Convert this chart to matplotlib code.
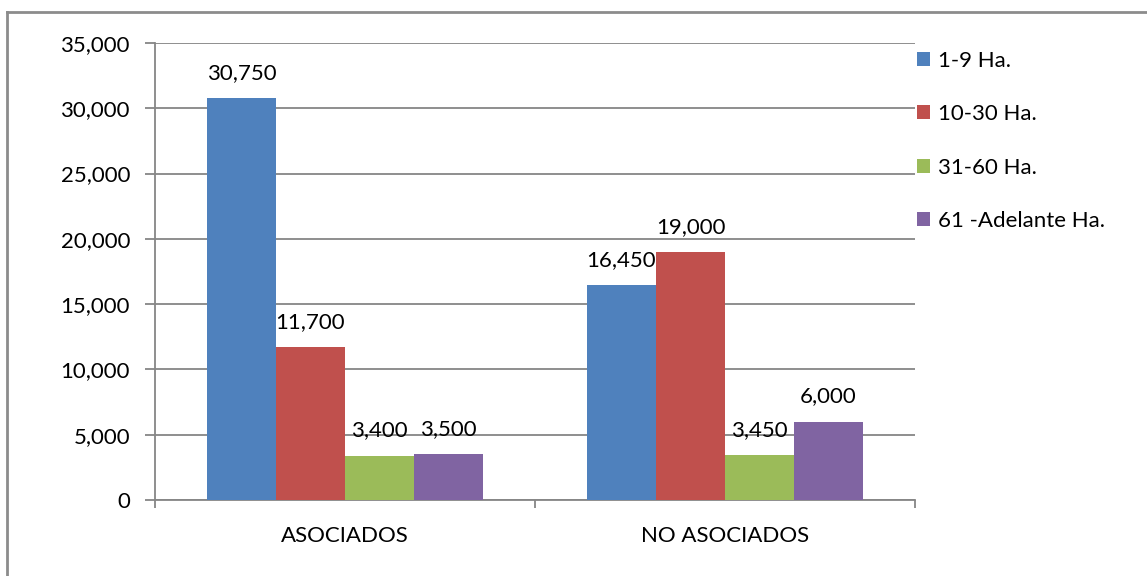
import matplotlib
matplotlib.use("Agg")
import matplotlib.pyplot as plt
from matplotlib.lines import Line2D
from matplotlib.ticker import FuncFormatter, MultipleLocator
import numpy as np

categories = ["ASOCIADOS", "NO ASOCIADOS"]
series_names = ["1-9 Ha.", "10-30 Ha.", "31-60 Ha.", "61 -Adelante Ha."]
values_1_9 = [30750, 16450]
values_10_30 = [11700, 19000]
values_31_60 = [3400, 3450]
values_61_up = [3500, 6000]
series_values = [values_1_9, values_10_30, values_31_60, values_61_up]
colors = ["#4F81BD", "#C0504D", "#9BBB59", "#8064A2"]

plt.rcParams["font.family"] = ["Lato", "DejaVu Sans"]
FS = 16
GRID = "#868686"

fig = plt.figure(figsize=(11.47, 5.76), dpi=100)
W, H = 1147, 576
ax = fig.add_axes([155 / W, 76 / H, 760 / W, 457 / H])

x = np.arange(len(categories))
bw = 69 / 380
for i, (name, vals, c) in enumerate(zip(series_names, series_values, colors)):
    offs = (i - 1.5) * bw
    bars = ax.bar(x + offs, vals, width=bw, color=c, edgecolor="none",
                  label=name, zorder=3)
    ax.bar_label(bars, labels=[f"{v:,}" for v in vals], padding=11,
                 fontsize=FS, color="black", zorder=4)

ax.set_xlim(-0.5, 1.5)
ax.set_ylim(0, 35000)
ax.yaxis.set_major_locator(MultipleLocator(5000))
ax.yaxis.set_major_formatter(FuncFormatter(lambda v, p: f"{int(v):,}"))
ax.grid(axis="y", color=GRID, linewidth=1.3, zorder=1)
ax.set_axisbelow(True)

ax.set_xticks(x)
ax.set_xticklabels(categories)
ax.set_xticks([-0.5, 0.5, 1.5], minor=True)
ax.tick_params(axis="x", which="major", length=0, pad=19, labelsize=FS)
ax.tick_params(axis="x", which="minor", length=6, width=1.3, color=GRID)
ax.tick_params(axis="y", length=7, width=1.3, color=GRID, pad=11, labelsize=FS)

for s in ["top", "right"]:
    ax.spines[s].set_visible(False)
for s in ["left", "bottom"]:
    ax.spines[s].set_color(GRID)
    ax.spines[s].set_linewidth(1.3)

leg = fig.legend(loc="upper left", bbox_to_anchor=(908 / W, 1 - 42 / H),
                 frameon=False, fontsize=FS, handlelength=0.6,
                 handleheight=0.6, handletextpad=0.35, labelspacing=1.5,
                 borderaxespad=0)

# outer chart frame (left and top edges visible)
fig.add_artist(Line2D([7 / W, 7 / W], [0, 1 - 12 / H], color="#8C8C8C",
                      linewidth=2, transform=fig.transFigure))
fig.add_artist(Line2D([7 / W, 1], [1 - 12 / H, 1 - 12 / H], color="#8C8C8C",
                      linewidth=2, transform=fig.transFigure))

fig.savefig("out.png", dpi=100, facecolor="white")
